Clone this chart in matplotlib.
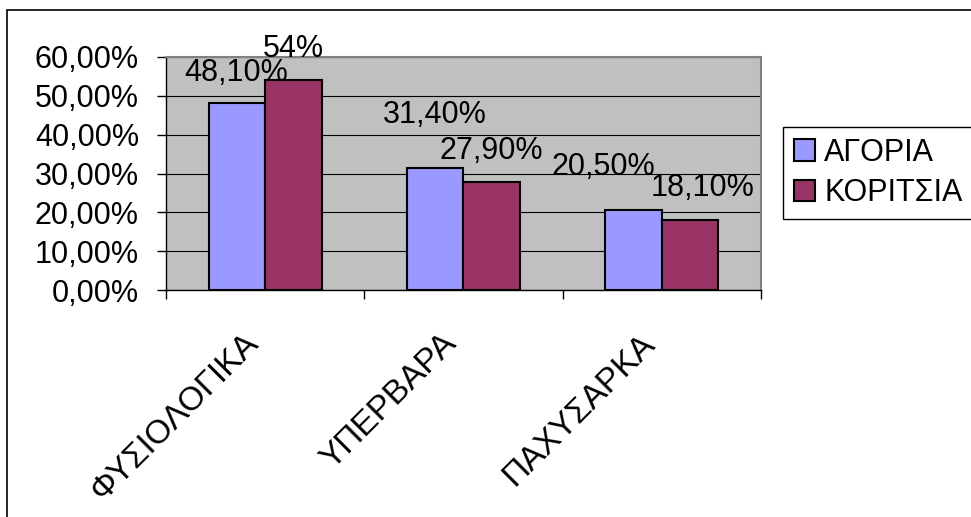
import matplotlib.pyplot as plt
import numpy as np
from matplotlib.patches import Rectangle

plt.rcParams['font.family'] = ['Liberation Sans', 'DejaVu Sans']

categories = ['ΦΥΣΙΟΛΟΓΙΚΑ', 'ΥΠΕΡΒΑΡΑ', 'ΠΑΧΥΣΑΡΚΑ']
boys = [0.481, 0.314, 0.205]
girls = [0.54, 0.279, 0.181]
boys_labels = ['48,10%', '31,40%', '20,50%']
girls_labels = ['54%', '27,90%', '18,10%']
yticks = [0.0, 0.1, 0.2, 0.3, 0.4, 0.5, 0.6]
ytick_labels = ['0,00%', '10,00%', '20,00%', '30,00%', '40,00%', '50,00%', '60,00%']

# label nudges in pixels (labels were dragged by hand in the original)
boys_off = [(-1, 22), (0, 45), (-30, 35)]
girls_off = [(0, 23), (0, 23), (12, 24)]

fig = plt.figure(figsize=(9.71, 5.17), dpi=100)
ax = fig.add_axes([166/971, 1-290/517, (761-166)/971, (290-57)/517])
ax.set_facecolor('#C0C0C0')

x = np.arange(len(categories))
w = 0.285
b1 = ax.bar(x - w/2, boys, w, color='#9999FF', edgecolor='black', linewidth=1.5, label='ΑΓΟΡΙΑ', zorder=3)
b2 = ax.bar(x + w/2, girls, w, color='#993366', edgecolor='black', linewidth=1.5, label='ΚΟΡΙΤΣΙΑ', zorder=3)

for bars, labels, offs in [(b1, boys_labels, boys_off), (b2, girls_labels, girls_off)]:
    for rect, lab, (dx, dy) in zip(bars, labels, offs):
        ax.annotate(lab, (rect.get_x() + rect.get_width()/2, rect.get_height()),
                    xytext=(dx, dy), textcoords='offset pixels',
                    ha='center', va='baseline', fontsize=22, zorder=5)

ax.set_xlim(-0.5, 2.5)
ax.set_ylim(0, 0.6)
ax.set_yticks(yticks)
ax.set_yticklabels(ytick_labels, fontsize=22)
ax.yaxis.grid(True, color='black', linewidth=0.8, zorder=0)
ax.set_axisbelow(True)
ax.tick_params(axis='y', length=6.5, width=1, pad=13)

# category names, rotated, placed under each group
ax.set_xticks([])
ax.set_xticks([-0.5, 0.5, 1.5, 2.5], minor=True)
ax.tick_params(axis='x', which='minor', length=6.5, width=1, labelbottom=False)
for xi, name in zip(x, categories):
    ax.annotate(name, (xi, 0), xytext=(-23, -38), textcoords='offset pixels',
                ha='right', va='top', rotation=45, rotation_mode='anchor',
                fontsize=24, annotation_clip=False)

for s in ['top', 'right']:
    ax.spines[s].set_color('#808080')
    ax.spines[s].set_linewidth(1.5)
for s in ['left', 'bottom']:
    ax.spines[s].set_color('black')
    ax.spines[s].set_linewidth(1)

leg = fig.legend(handles=[b1, b2], loc='upper left', bbox_to_anchor=(783/971, 1-127/517),
                 borderaxespad=0, fontsize=22, handlelength=0.7, handleheight=0.7,
                 handletextpad=0.3, labelspacing=0.35, borderpad=0.35,
                 fancybox=False, framealpha=1, edgecolor='black')
leg.get_frame().set_linewidth(1)

fig.add_artist(Rectangle((7/971, -0.1), 1.2, 1.1 - 10/517, transform=fig.transFigure,
                         fill=False, edgecolor='black', linewidth=1.2))

fig.savefig('out.png', dpi=100)
